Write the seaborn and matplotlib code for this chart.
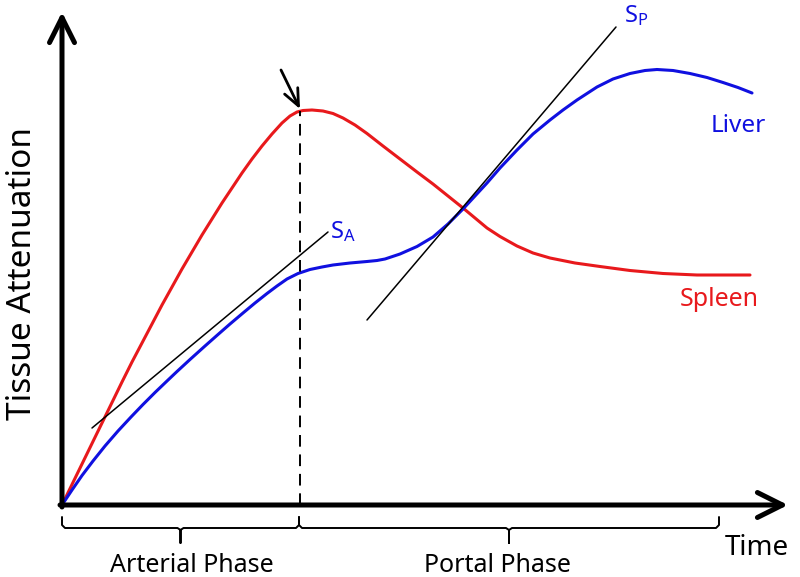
import matplotlib
matplotlib.use("Agg")
import matplotlib.pyplot as plt
import seaborn as sns
import pandas as pd

# curve readings (time, attenuation), arbitrary units
spleen_time = [0, 10, 20, 30, 40, 50, 60, 70, 80, 90, 100, 110, 120, 130, 140, 150,
               160, 170, 180, 190, 200, 210, 220, 228, 235, 241, 250, 261, 271, 281,
               293, 305, 321, 338, 355, 371, 386, 401, 413, 425, 438, 455, 471, 488,
               513, 538, 568, 601, 635, 688]
spleen_att = [0, 20.5, 41, 61.5, 82, 102.5, 123, 143, 162, 181, 200, 218, 236, 253,
              270, 286, 302, 317, 332, 346, 359, 371, 382, 389, 393, 394.5, 395, 394,
              391.5, 387, 380, 371.5, 359, 346, 333, 321, 309, 297, 287, 277, 268.5,
              259, 252, 247, 242, 238.5, 234.5, 231.5, 230, 230]

liver_time = [0, 10, 20, 31, 43, 56, 69, 81, 93, 105, 115, 128, 143, 156, 168, 181,
              193, 205, 215, 225, 236, 248, 260, 271, 288, 305, 315, 323, 338, 355,
              371, 386, 401, 413, 425, 438, 455, 471, 488, 501, 515, 535, 551, 568,
              583, 595, 611, 628, 645, 661, 676, 690]
liver_att = [0, 15, 29.5, 44, 59, 74, 88, 100.5, 112.5, 124, 133.5, 145.5, 159, 170.5,
             181, 192, 202, 211.5, 219, 226, 231.5, 235.5, 238, 240, 242, 243.5, 244.5,
             246, 251, 258.5, 268, 281, 296, 309, 322, 337, 355, 371, 385, 395, 405,
             418, 426, 431.5, 434.5, 435.5, 434.5, 431.5, 427.5, 422.5, 417.5, 412]

# tangent segments (slopes S_A and S_P)
tangent_a_time = [30, 266]
tangent_a_att = [77, 273]
tangent_p_time = [305, 554]
tangent_p_att = [185, 478]

peak_time = 238
peak_att = 394
phase_edges = [0, 237, 657]
phase_names = ["Arterial Phase", "Portal Phase"]

RED = "#e8191c"
BLUE = "#1010e0"

sns.set_theme(style="white")
plt.rcParams["font.family"] = ["Noto Sans", "DejaVu Sans"]
plt.rcParams["mathtext.default"] = "regular"

df = pd.concat([
    pd.DataFrame({"time": spleen_time, "att": spleen_att, "organ": "Spleen"}),
    pd.DataFrame({"time": liver_time, "att": liver_att, "organ": "Liver"}),
])

fig = plt.figure(figsize=(8, 5.77), dpi=100)
ax = fig.add_axes([0, 0, 1, 1])

sns.lineplot(data=df, x="time", y="att", hue="organ", sort=False, estimator=None,
             palette={"Spleen": RED, "Liver": BLUE}, lw=2.2, legend=False, ax=ax)
for line in ax.lines:
    line.set_solid_joinstyle("round")

ax.plot(tangent_a_time, tangent_a_att, color="black", lw=1.1)
ax.plot(tangent_p_time, tangent_p_att, color="black", lw=1.1)

# dashed marker at the spleen peak, with the pointing arrow
ax.plot([peak_time, peak_time], [0, peak_att], color="black", lw=1.4, ls=(0, (6, 4)))
ax.annotate("", xy=(peak_time, peak_att + 2), xytext=(peak_time - 19, peak_att + 41),
            arrowprops=dict(arrowstyle="->,head_length=0.8,head_width=0.35",
                            lw=2.0, color="black", mutation_scale=15,
                            shrinkA=0, shrinkB=0))

# axes with arrow heads
arrow_kw = dict(arrowstyle="->,head_length=1.0,head_width=0.5", lw=3.6,
                color="black", mutation_scale=18, shrinkA=0, shrinkB=0)
ax.annotate("", xy=(726, 0), xytext=(-2, 0), arrowprops=arrow_kw)
ax.annotate("", xy=(0, 493), xytext=(0, -2), arrowprops=arrow_kw)

# phase braces
for i, name in enumerate(phase_names):
    x0, x1 = phase_edges[i], phase_edges[i + 1]
    mid = (x0 + x1) / 2
    bx = [x0, x0, x0 + 3, mid - 3, mid, mid, mid, mid + 3, x1 - 3, x1, x1]
    by = [-12, -20, -23, -23, -25, -38, -25, -23, -23, -20, -12]
    ax.plot(bx, by, color="black", lw=1.4, solid_joinstyle="round")
    ax.text(mid + 11 if i == 0 else mid - 12, -60, name, fontsize=18,
            ha="center", va="center", color="black")

ax.text(695, -43, "Time", fontsize=20, ha="center", va="center", color="black")
ax.text(-39, 232, "Tissue Attenuation", fontsize=24, rotation=90,
        ha="center", va="center", color="black")

ax.text(268, 273, "S$_{A}$", fontsize=17, ha="left", va="center", color=BLUE)
ax.text(562, 489, "S$_{P}$", fontsize=17, ha="left", va="center", color=BLUE)
ax.text(676, 379, "Liver", fontsize=17.5, ha="center", va="center", color=BLUE)
ax.text(657, 205, "Spleen", fontsize=18, ha="center", va="center", color=RED)

ax.set_xlim(-62, 738)
ax.set_ylim(-72, 505)
ax.axis("off")

fig.savefig("out.png", dpi=100)
